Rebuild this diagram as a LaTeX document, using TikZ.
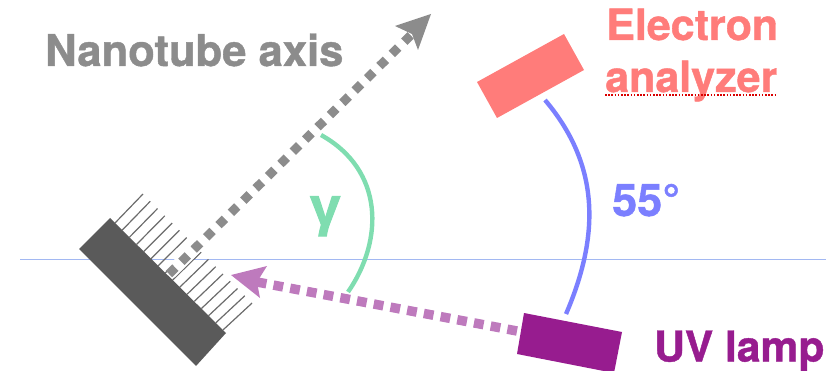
\documentclass[tikz,border=0pt]{standalone}
\usepackage{fontspec}
\setmainfont[BoldFeatures={FakeBold=1.0}]{TeX Gyre Heros}
\newfontfamily\gammafont[FakeBold=2]{Liberation Sans Bold}
\usetikzlibrary{calc}
\definecolor{graytxt}{HTML}{8C8C8C}
\definecolor{dark}{HTML}{5A5A5A}
\definecolor{salmon}{HTML}{FF7C7A}
\definecolor{violetb}{HTML}{7B7FFF}
\definecolor{mint}{HTML}{7FDDB0}
\definecolor{lamp}{HTML}{971C8F}
\definecolor{lampl}{HTML}{BE7ABD}
\definecolor{hline}{HTML}{A2B8F2}
\tikzset{
 lbl/.style={inner sep=0pt,anchor=base west,font=\fontsize{43}{43}\selectfont\bfseries},
 hair/.style={draw=dark!90,line width=1.2pt},
 arc/.style={line width=4.4pt,line cap=butt},
}
\begin{document}
\begin{tikzpicture}[x=1pt,y=-1pt]
\useasboundingbox (0,0) rectangle (826,371);
\clip (0,0) rectangle (826,371);
\draw[hline,line width=1pt] (20,259) -- (826,259);
% hairs
\foreach \i in {0,...,15}{
  \draw[hair] ({115+7.2*\i},{223+7.13*\i}) -- ({143+7.27*\i},{194+7.27*\i});
}
% substrate
\fill[dark] (110,218) -- (226,333) -- (196,366) -- (79,249) -- cycle;
% axis arrow
\coordinate (axs) at (169,274);
\coordinate (axe) at (413,33);
\draw[white,line width=13pt] (170,273) -- (199,244);
\draw[graytxt,line width=9pt,dash pattern=on 9pt off 8.4pt] (axs) -- (axe);
\fill[graytxt] (431,14) -- (395,26) -- (412,34) -- (418,50) -- cycle;
% UV arrow
\coordinate (uvs) at (517,331);
\coordinate (uve) at (257,282);
\draw[lampl,line width=9.5pt,dash pattern=on 9.8pt off 7.2pt] (uvs) -- (uve);
\fill[lampl] (231,275) -- (267,266) -- (257,282) -- (260,298) -- cycle;
% boxes
\fill[salmon] (477,82) -- (564,34) -- (584,70) -- (497,118) -- cycle;
\fill[lamp] (524,313) -- (622,332) -- (614,373) -- (517,354) -- cycle;
% arcs
\coordinate (b1) at (545,100);
\coordinate (b2) at (566,314);
\coordinate (g1) at (321,135);
\coordinate (g2) at (348,292);
\draw[violetb,arc] (b1) .. controls (600,165) and (600,235) .. (b2);
\draw[mint,arc] (g1) .. controls (384,170) and (384,240) .. (g2);
% labels
\node[lbl,text=graytxt,font=\fontsize{43.6}{44}\selectfont\bfseries] (axis) at (45,66) {Nanotube axis};
\node[lbl,text=salmon] (el) at (606,40) {Electron};
\node[lbl,text=salmon] (an) at (605,92) {analyzer};
\node[lbl,text=violetb,font=\fontsize{45}{45}\selectfont\bfseries] (deg) at (612,216) {55°};
\node[inner sep=0pt,anchor=base west,text=mint,font=\fontsize{54}{54}\selectfont\gammafont] (gam) at (310,225) {γ};
\node[lbl,text=lamp,font=\fontsize{42.5}{43}\selectfont\bfseries] (uv) at (654,361.5) {UV lamp};
\draw[red!85!black,line width=1.2pt,dash pattern=on 1.6pt off 1.6pt] (605,95) -- (777,95);
\end{tikzpicture}
\end{document}
